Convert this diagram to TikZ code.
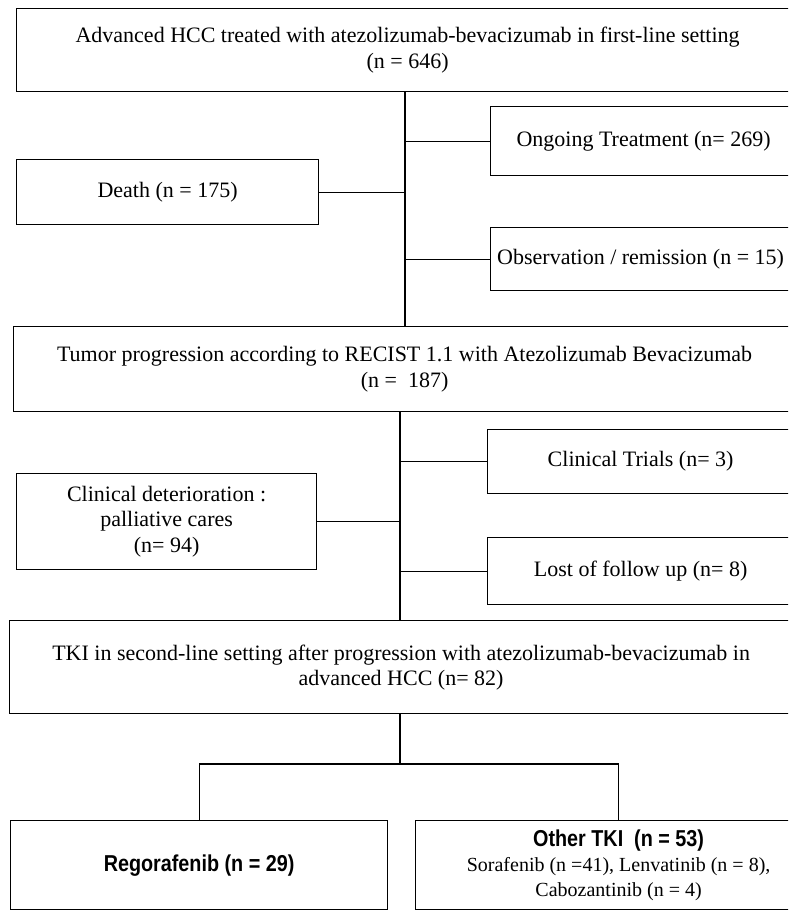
\documentclass[tikz,border=0pt]{standalone}
\usepackage{fontspec}
\setmainfont{Liberation Serif}
\newfontfamily\boldsans[FakeStretch=0.86]{Liberation Sans Bold}

\begin{document}
\begin{tikzpicture}[x = 1pt, y = -1pt, line width = 1.2pt,
		box/.style = {draw, anchor = north west, align = center, inner sep = 0pt, font = \fontsize{22}{26}\selectfont},
		drugbox/.style = {box, font = \fontsize{20}{25}\selectfont}]
	\clip (0, 0) rectangle (788, 911);
	\node [box, minimum width = 782, minimum height = 83] (advanced) at (16, 8) {Advanced HCC treated with atezolizumab-bevacizumab in first-line setting\\(n = 646)};
	\node [box, minimum width = 306, minimum height = 69] (ongoing) at (490, 106) {Ongoing Treatment (n= 269)};
	\node [box, minimum width = 302, minimum height = 65] (death) at (16, 159) {Death (n = 175)};
	\node [box, minimum width = 300, minimum height = 63] (observation) at (490, 227) {Observation / remission (n = 15)};
	\node [box, minimum width = 782, minimum height = 85] (tumor) at (13, 326) {Tumor progression according to RECIST 1.1 with Atezolizumab Bevacizumab\\(n = \ 187)};
	\node [box, minimum width = 306, minimum height = 64] (trials) at (487, 429) {Clinical Trials (n= 3)};
	\node [box, minimum width = 300, minimum height = 96, font = \fontsize{22}{25.5}\selectfont] (palliative) at (16, 473) {Clinical deterioration :\\palliative cares\\(n= 94)};
	\node [box, minimum width = 306, minimum height = 67] (lost) at (487, 537) {Lost of follow up (n= 8)};
	\node [box, minimum width = 783, minimum height = 93, font = \fontsize{22}{25}\selectfont] (tki) at (9, 620) {TKI in second-line setting after progression with atezolizumab-bevacizumab in\\advanced HCC (n= 82)};
	\node [box, minimum width = 377, minimum height = 89, font = \boldsans\fontsize{23}{26}\selectfont] (rego) at (10, 820) {Regorafenib (n = 29)};
	\node [drugbox, minimum width = 406, minimum height = 89] (other) at (415, 820) {{\boldsans\fontsize{23}{25}\selectfont Other TKI \ (n = 53)}\\Sorafenib (n =41), Lenvatinib (n = 8),\\Cabozantinib (n = 4)};

	\coordinate (spineA) at (405, 0);
	\draw (advanced.south -| spineA) -- (tumor.north -| spineA);
	\draw (ongoing.west) -- (ongoing.west -| spineA);
	\draw (death.east) -- (death.east -| spineA);
	\draw (observation.west) -- (observation.west -| spineA);

	\coordinate (spineB) at (400, 0);
	\draw (tumor.south -| spineB) -- (tki.north -| spineB);
	\draw (trials.west) -- (trials.west -| spineB);
	\draw (palliative.east) -- (palliative.east -| spineB);
	\draw (lost.west) -- (lost.west -| spineB);

	\coordinate (fork) at (400, 764);
	\draw (tki.south -| fork) -- (fork);
	\draw (rego.north) |- (fork) -| (other.north);
\end{tikzpicture}
\end{document}
